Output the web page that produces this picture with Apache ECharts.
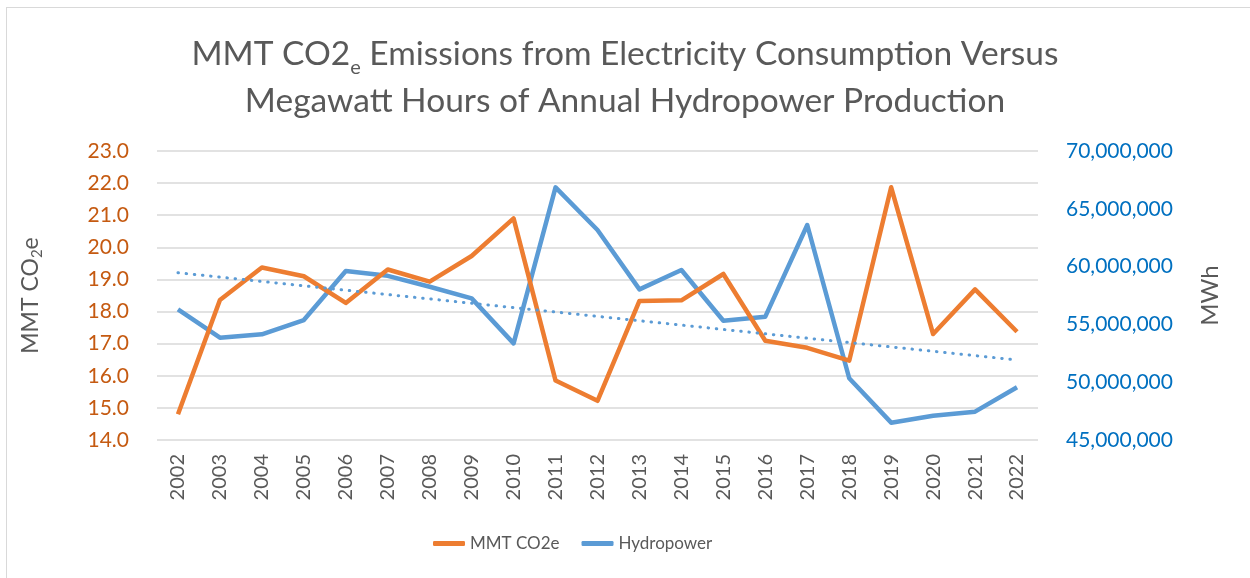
<!DOCTYPE html>
<html>
<head>
<meta charset="utf-8">
<script src="https://cdn.jsdelivr.net/npm/echarts@6/dist/echarts.min.js"></script>
<style>
html,body{margin:0;padding:0;background:#fff;overflow:hidden;}
#wrap{position:absolute;left:6px;top:7px;width:1260px;height:580px;border:1.5px solid #D9D9D9;box-sizing:border-box;}
#chart{position:absolute;left:0;top:0;width:1250px;height:578px;}
</style>
</head>
<body>
<div id="wrap"></div>
<div id="chart"></div>
<script>
const years = ['2002','2003','2004','2005','2006','2007','2008','2009','2010','2011','2012','2013','2014','2015','2016','2017','2018','2019','2020','2021','2022'];
const co2 = [14.8, 18.36, 19.37, 19.1, 18.27, 19.31, 18.93, 19.73, 20.9, 15.85, 15.22, 18.33, 18.35, 19.17, 17.09, 16.87, 16.47, 21.87, 17.3, 18.69, 17.37];
const hydro = [56300000, 53850000, 54140000, 55380000, 59620000, 59200000, 58260000, 57250000, 53360000, 66860000, 63170000, 58030000, 59710000, 55320000, 55670000, 63600000, 50340000, 46500000, 47100000, 47450000, 49560000];
const hydroTrend = [59470000, 51920000];
const leftTicks = {min: 14, max: 23, interval: 1};
const rightTicks = {min: 45000000, max: 70000000, interval: 5000000};

const chart = echarts.init(document.getElementById('chart'));
const FONT = 'Lato';
chart.setOption({
  animation: false,
  backgroundColor: 'transparent',
  title: {
    text: '{a|MMT CO2}{s|e}{a| Emissions from Electricity Consumption Versus}\n{a|Megawatt Hours of Annual Hydropower Production}',
    left: 'center',
    top: 26,
    textStyle: {
      fontWeight: 'normal',
      rich: {
        a: {fontFamily: FONT, fontSize: 33.5, fontWeight: 'normal', color: '#595959', lineHeight: 47},
        s: {fontFamily: FONT, fontSize: 20, fontWeight: 'normal', color: '#595959', lineHeight: 26, verticalAlign: 'bottom'}
      }
    }
  },
  legend: {
    bottom: 21,
    left: 428,
    itemWidth: 32,
    itemHeight: 5,
    itemGap: 22,
    icon: 'roundRect',
    textStyle: {fontFamily: FONT, fontSize: 17, color: '#595959'},
    data: ['MMT CO2e', 'Hydropower']
  },
  grid: {left: 157, right: 212, top: 151, bottom: 138, containLabel: false},
  xAxis: {
    type: 'category',
    data: years,
    boundaryGap: true,
    axisLine: {show: false},
    axisTick: {show: false},
    axisLabel: {rotate: 90, fontFamily: FONT, fontSize: 20, color: '#595959', margin: 14}
  },
  yAxis: [
    {
      type: 'value',
      min: leftTicks.min, max: leftTicks.max, interval: leftTicks.interval,
      position: 'left',
      name: '{a|MMT CO}{s|2}{a|e}',
      nameLocation: 'middle',
      nameGap: 112,
      nameRotate: 90,
      nameTextStyle: {
        rich: {
          a: {fontFamily: FONT, fontSize: 23, color: '#595959', lineHeight: 28},
          s: {fontFamily: FONT, fontSize: 15, color: '#595959', lineHeight: 16, verticalAlign: 'bottom'}
        }
      },
      axisLine: {show: false},
      axisTick: {show: false},
      axisLabel: {fontFamily: FONT, fontSize: 21, color: '#C55A11', margin: 28, formatter: v => v.toFixed(1)},
      splitLine: {show: true, lineStyle: {color: '#D9D9D9', width: 1.5}}
    },
    {
      type: 'value',
      min: rightTicks.min, max: rightTicks.max, interval: rightTicks.interval,
      position: 'right',
      name: 'MWh',
      nameLocation: 'middle',
      nameGap: 160,
      nameRotate: 90,
      nameTextStyle: {fontFamily: FONT, fontSize: 24, color: '#595959'},
      axisLine: {show: false},
      axisTick: {show: false},
      axisLabel: {fontFamily: FONT, fontSize: 21, color: '#0070C0', margin: 28,
        formatter: v => v.toLocaleString('en-US')},
      splitLine: {show: false}
    }
  ],
  series: [
    {
      name: 'MMT CO2e',
      type: 'line',
      yAxisIndex: 0,
      data: co2,
      symbol: 'none',
      lineStyle: {color: '#ED7D31', width: 4.5, join: 'round'},
      itemStyle: {color: '#ED7D31'},
      z: 3
    },
    {
      name: 'Hydropower',
      type: 'line',
      yAxisIndex: 1,
      data: hydro,
      symbol: 'none',
      lineStyle: {color: '#5B9BD5', width: 4.5, join: 'round'},
      itemStyle: {color: '#5B9BD5'},
      z: 2,
      markLine: {
        silent: true,
        symbol: ['none', 'none'],
        label: {show: false},
        lineStyle: {color: '#5B9BD5', width: 3, type: [0.5, 7.7], cap: 'round'},
        data: [[{coord: [years[0], hydroTrend[0]]}, {coord: [years[years.length - 1], hydroTrend[1]]}]]
      }
    }
  ]
});
</script>
</body>
</html>
